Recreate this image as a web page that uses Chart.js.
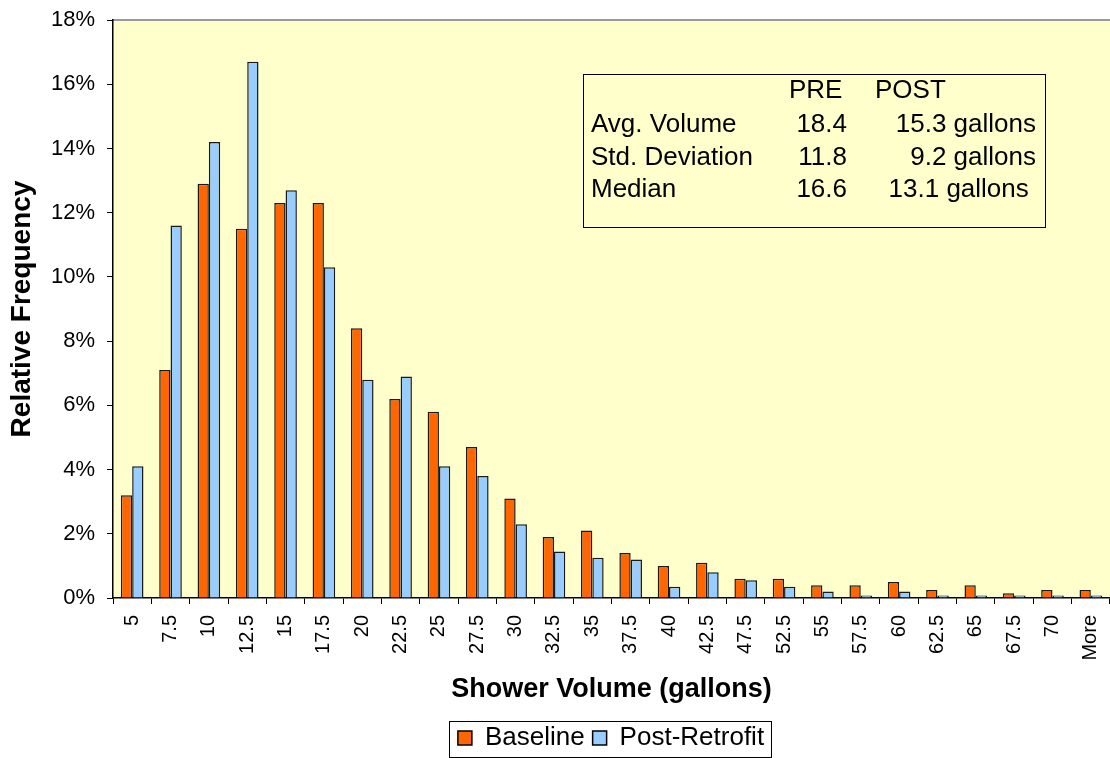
<!DOCTYPE html>
<html>
<head>
<meta charset="utf-8">
<title>Shower Volume Distribution</title>
<script src="https://cdn.jsdelivr.net/npm/chart.js@4.4.1/dist/chart.umd.min.js"></script>
<style>
  html, body { margin: 0; padding: 0; background: #fff; }
  .chart-wrap { width: 1110px; height: 758px; }
</style>
</head>
<body>
<div class="chart-wrap">
  <canvas id="myChart" width="1110" height="758"></canvas>
</div>
<script>
const FONT = "'Liberation Sans', Arial, sans-serif";

// bins (gallons per shower)
const labels = ['5', '7.5', '10', '12.5', '15', '17.5', '20', '22.5', '25', '27.5', '30', '32.5',
  '35', '37.5', '40', '42.5', '47.5', '52.5', '55', '57.5', '60', '62.5', '65', '67.5', '70', 'More'];

// relative frequency, %
const baseline = [3.2, 7.1, 12.9, 11.5, 12.3, 12.3, 8.4, 6.2, 5.8, 4.7, 3.1, 1.9,
  2.1, 1.4, 1.0, 1.1, 0.6, 0.6, 0.4, 0.4, 0.5, 0.25, 0.4, 0.15, 0.25, 0.25];
const postRetrofit = [4.1, 11.6, 14.2, 16.7, 12.7, 10.3, 6.8, 6.9, 4.1, 3.8, 2.3, 1.45,
  1.25, 1.2, 0.35, 0.8, 0.55, 0.35, 0.2, 0.08, 0.2, 0.08, 0.08, 0.08, 0.08, 0.08];

const yTicks = [0, 2, 4, 6, 8, 10, 12, 14, 16, 18];

// summary table
const statHeader = ['PRE', 'POST'];
const statNames = ['Avg. Volume', 'Std. Deviation', 'Median'];
const statPre = ['18.4', '11.8', '16.6'];
const statPost = ['15.3 gallons', '9.2 gallons', '13.1 gallons '];

const plotBackground = {
  id: 'plotBackground',
  beforeDraw(chart) {
    const { ctx, chartArea: a } = chart;
    ctx.save();
    ctx.fillStyle = '#FFFFCC';
    ctx.fillRect(a.left, a.top, a.right - a.left, a.bottom - a.top);
    ctx.strokeStyle = '#999';
    ctx.lineWidth = 2;
    ctx.beginPath();
    ctx.moveTo(a.left, a.top);
    ctx.lineTo(a.right, a.top);
    ctx.stroke();
    ctx.restore();
  }
};

// legend sits under the plot area centre, a little lower than default
const legendShift = {
  id: 'legendShift',
  afterLayout(chart) {
    const lg = chart.legend;
    const dx = 56, dy = 3;
    lg.left += dx; lg.right += dx;
    lg.top += dy; lg.bottom += dy;
  }
};

const statsBox = {
  id: 'statsBox',
  afterDatasetsDraw(chart) {
    const ctx = chart.ctx;
    ctx.save();
    ctx.strokeStyle = '#000';
    ctx.lineWidth = 1;
    ctx.strokeRect(583.5, 74.5, 462, 153);

    ctx.fillStyle = '#000';
    ctx.font = '26px ' + FONT;
    ctx.textBaseline = 'alphabetic';
    ctx.textAlign = 'left';
    ctx.fillText(statHeader[0], 789, 98);
    ctx.fillText(statHeader[1], 875, 98);

    const rowY = [132, 164.5, 197];
    statNames.forEach((name, i) => {
      ctx.textAlign = 'left';
      ctx.fillText(name, 591, rowY[i]);
      ctx.textAlign = 'right';
      ctx.fillText(statPre[i], 847, rowY[i]);
      ctx.fillText(statPost[i], 1036, rowY[i]);
    });
    ctx.restore();
  }
};

const legendFrame = {
  id: 'legendFrame',
  afterDraw(chart) {
    const boxes = chart.legend.legendHitBoxes;
    if (!boxes || !boxes.length) return;
    const left = Math.min(...boxes.map(b => b.left)) - 9;
    const right = Math.max(...boxes.map(b => b.left + b.width)) + 7;
    const top = Math.min(...boxes.map(b => b.top)) - 4;
    const bottom = Math.max(...boxes.map(b => b.top + b.height)) + 6;
    const ctx = chart.ctx;
    ctx.save();
    ctx.strokeStyle = '#000';
    ctx.lineWidth = 1;
    ctx.strokeRect(Math.round(left) + 0.5, Math.round(top) + 0.5, Math.round(right - left), Math.round(bottom - top));
    ctx.restore();
  }
};

const data = {
  labels: labels,
  datasets: [{
    label: 'Baseline',
    data: baseline,
    backgroundColor: '#FF6600',
    borderColor: '#1a1a1a',
    borderWidth: 1.5,
    categoryPercentage: 0.59,
    barPercentage: 1.0
  }, {
    label: 'Post-Retrofit',
    data: postRetrofit,
    backgroundColor: '#99CCFF',
    borderColor: '#1a1a1a',
    borderWidth: 1.5,
    categoryPercentage: 0.59,
    barPercentage: 1.0
  }]
};

const config = {
  type: 'bar',
  data: data,
  options: {
    responsive: false,
    animation: false,
    devicePixelRatio: 1,
    layout: { padding: { top: 20, right: 0, left: 0, bottom: 0 } },
    plugins: {
      tooltip: { enabled: false },
      legend: {
        position: 'bottom',
        labels: {
          font: { family: FONT, size: 26 },
          color: '#000',
          boxWidth: 14,
          boxHeight: 14,
          padding: 8,
          generateLabels(chart) {
            return chart.data.datasets.map((ds, i) => ({
              text: ds.label,
              fillStyle: ds.backgroundColor,
              strokeStyle: '#000',
              lineWidth: 1.5,
              datasetIndex: i,
              fontColor: '#000'
            }));
          }
        }
      }
    },
    scales: {
      x: {
        grid: {
          display: true,
          drawOnChartArea: false,
          drawTicks: true,
          tickLength: 6,
          color: '#000',
          offset: true
        },
        border: { display: true, color: '#000', width: 1.5 },
        ticks: {
          autoSkip: false,
          maxRotation: 90,
          minRotation: 90,
          padding: 11,
          color: '#000',
          font: { family: FONT, size: 20 }
        },
        title: {
          display: true,
          text: 'Shower Volume (gallons)',
          color: '#000',
          font: { family: FONT, size: 27, weight: 'bold' },
          padding: { top: 0, bottom: 8 }
        },
        afterFit(scale) {
          scale.height = 116;
          scale.paddingLeft = 0;
          scale.paddingRight = 0;
        }
      },
      y: {
        min: 0,
        max: 18,
        afterBuildTicks(scale) { scale.ticks = yTicks.map(v => ({ value: v })); },
        grid: {
          display: true,
          drawOnChartArea: false,
          drawTicks: true,
          tickLength: 6,
          color: '#000'
        },
        border: { display: true, color: '#000', width: 1.5 },
        ticks: {
          padding: 12,
          color: '#000',
          font: { family: FONT, size: 22 },
          callback: v => v + '%'
        },
        title: {
          display: true,
          text: 'Relative Frequency',
          color: '#000',
          font: { family: FONT, size: 28, weight: 'bold' },
          padding: { top: 5, bottom: 0 }
        },
        afterFit(scale) {
          scale.width = 113;
          scale.paddingTop = 0;
          scale.paddingBottom = 0;
        }
      }
    }
  },
  plugins: [plotBackground, legendShift, statsBox, legendFrame]
};

const myChart = new Chart(document.getElementById('myChart'), config);
</script>
</body>
</html>
